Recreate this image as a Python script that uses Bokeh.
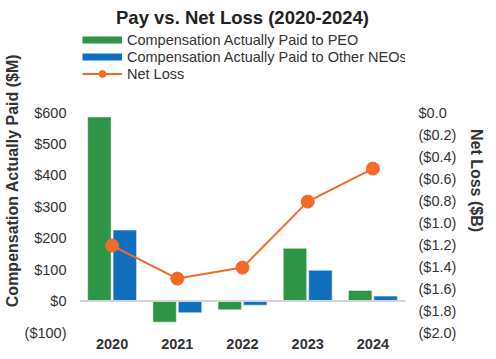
from bokeh.plotting import figure
from bokeh.models import (ColumnDataSource, Range1d, LinearAxis, FixedTicker, Span,
                          Legend, LegendItem, FactorRange)
from bokeh.transform import dodge
from bokeh.embed import file_html
from bokeh.resources import INLINE

# ---- data ----
years = ["2020", "2021", "2022", "2023", "2024"]
cap_peo = [586, -67, -28, 168, 34]        # $M
cap_neo = [226, -37, -13, 98, 16]         # $M
net_loss = [-1.21, -1.51, -1.41, -0.81, -0.51]  # $B

left_ticks = [-100, 0, 100, 200, 300, 400, 500, 600]
left_labels = ["($100)", "$0", "$100", "$200", "$300", "$400", "$500", "$600"]
right_ticks = [-2.0, -1.8, -1.6, -1.4, -1.2, -1.0, -0.8, -0.6, -0.4, -0.2, 0.0]
right_labels = ["($2.0)", "($1.8)", "($1.6)", "($1.4)", "($1.2)", "($1.0)",
                "($0.8)", "($0.6)", "($0.4)", "($0.2)", "$0.0"]

GREEN = "#2E9446"
BLUE = "#1170BE"
ORANGE = "#F26A24"
TXT = "#333333"
FONT = "Liberation Sans"

# layout: the plot area reaches up to just under the title so the legend can sit
# inside it; the axis ranges are extended upward to keep the original scale.
W, H = 488, 355
TOP, BOTTOM = 28, 23
FRAME_H = H - TOP - BOTTOM
AXIS_PX = 220                    # height of the -100..600 / -2.0..0.0 axis span
L0, L1 = -100, 600
R0, R1 = -2.0, 0.0
left_end = L0 + FRAME_H * (L1 - L0) / AXIS_PX
right_end = R0 + FRAME_H * (R1 - R0) / AXIS_PX

src = ColumnDataSource(dict(year=years, peo=cap_peo, neo=cap_neo, loss=net_loss))

p = figure(width=W, height=H, x_range=FactorRange(*years),
           y_range=Range1d(L0, left_end), output_backend="svg", toolbar_location=None,
           min_border_left=75, min_border_right=80, min_border_top=TOP,
           min_border_bottom=BOTTOM)
p.outline_line_color = None
p.grid.visible = False
p.background_fill_color = "white"

# "loss" = right axis; "swatch" = a far-away range used only for legend line swatches
p.extra_y_ranges = {"loss": Range1d(R0, right_end), "swatch": Range1d(100000, 100001)}

# zero line
p.add_layout(Span(location=0, dimension="width", line_color="#d4d4d4", line_width=2))

p.vbar(x=dodge("year", -0.195, range=p.x_range), top="peo", width=0.36, source=src,
       fill_color=GREEN, line_color="white", line_alpha=0.5, line_width=1)
p.vbar(x=dodge("year", 0.195, range=p.x_range), top="neo", width=0.36, source=src,
       fill_color=BLUE, line_color="white", line_alpha=0.5, line_width=1)

ln = p.line(x="year", y="loss", source=src, y_range_name="loss",
            line_color=ORANGE, line_width=2)
sc = p.scatter(x="year", y="loss", source=src, y_range_name="loss",
               size=13, fill_color=ORANGE, line_color=ORANGE)

# legend swatches (thick lines, mapped far outside the visible area)
g_sw = p.line(x="year", y="peo", source=src, y_range_name="swatch",
              line_color=GREEN, line_width=7)
b_sw = p.line(x="year", y="neo", source=src, y_range_name="swatch",
              line_color=BLUE, line_width=7)


def plain(ax):
    ax.axis_line_color = None
    ax.major_tick_line_color = None
    ax.minor_tick_line_color = None
    ax.major_tick_out = 0
    ax.major_tick_in = 0
    ax.minor_tick_out = 0
    ax.minor_tick_in = 0


# axes
xa = p.xaxis[0]
plain(xa)
xa.major_label_text_font = FONT
xa.major_label_text_font_style = "bold"
xa.major_label_text_font_size = "14.5px"
xa.major_label_text_color = TXT
xa.major_label_standoff = 6

ya = p.yaxis[0]
plain(ya)
ya.bounds = (L0, L1)
ya.ticker = FixedTicker(ticks=left_ticks)
ya.major_label_overrides = {t: l for t, l in zip(left_ticks, left_labels)}
ya.major_label_text_font = FONT
ya.major_label_text_font_size = "14.5px"
ya.major_label_text_color = TXT
ya.major_label_standoff = 13
ya.axis_label = "Compensation Actually Paid ($M)"
ya.axis_label_text_font = FONT
ya.axis_label_text_font_style = "bold"
ya.axis_label_text_font_size = "16px"
ya.axis_label_text_color = TXT
ya.axis_label_standoff = 1

ra = LinearAxis(y_range_name="loss", ticker=FixedTicker(ticks=right_ticks))
plain(ra)
ra.bounds = (R0, R1)
ra.major_label_overrides = {t: l for t, l in zip(right_ticks, right_labels)}
ra.major_label_text_font = FONT
ra.major_label_text_font_size = "14.5px"
ra.major_label_text_color = TXT
ra.major_label_standoff = 13
ra.axis_label = "Net Loss ($B)"
ra.axis_label_text_font = FONT
ra.axis_label_text_font_style = "bold"
ra.axis_label_text_font_size = "16px"
ra.axis_label_text_color = TXT
ra.axis_label_standoff = 9
p.add_layout(ra, "right")

legend = Legend(items=[
    LegendItem(label="Compensation Actually Paid to PEO", renderers=[g_sw]),
    LegendItem(label="Compensation Actually Paid to Other NEOs", renderers=[b_sw]),
    LegendItem(label="Net Loss", renderers=[ln, sc]),
], location="top_left", glyph_width=40, glyph_height=17, label_height=17, spacing=0,
   label_standoff=5, padding=0, margin=3, border_line_color=None,
   background_fill_alpha=0, label_text_font=FONT, label_text_font_size="14.5px",
   label_text_color=TXT)
p.add_layout(legend, "center")

# title
p.title.text = "Pay vs. Net Loss (2020-2024)"
p.title.align = "center"
p.title.text_font = FONT
p.title.text_font_style = "bold"
p.title.text_font_size = "18.5px"
p.title.text_color = "#222222"
p.title.standoff = 2

open("out.html", "w").write(file_html(p, INLINE))
